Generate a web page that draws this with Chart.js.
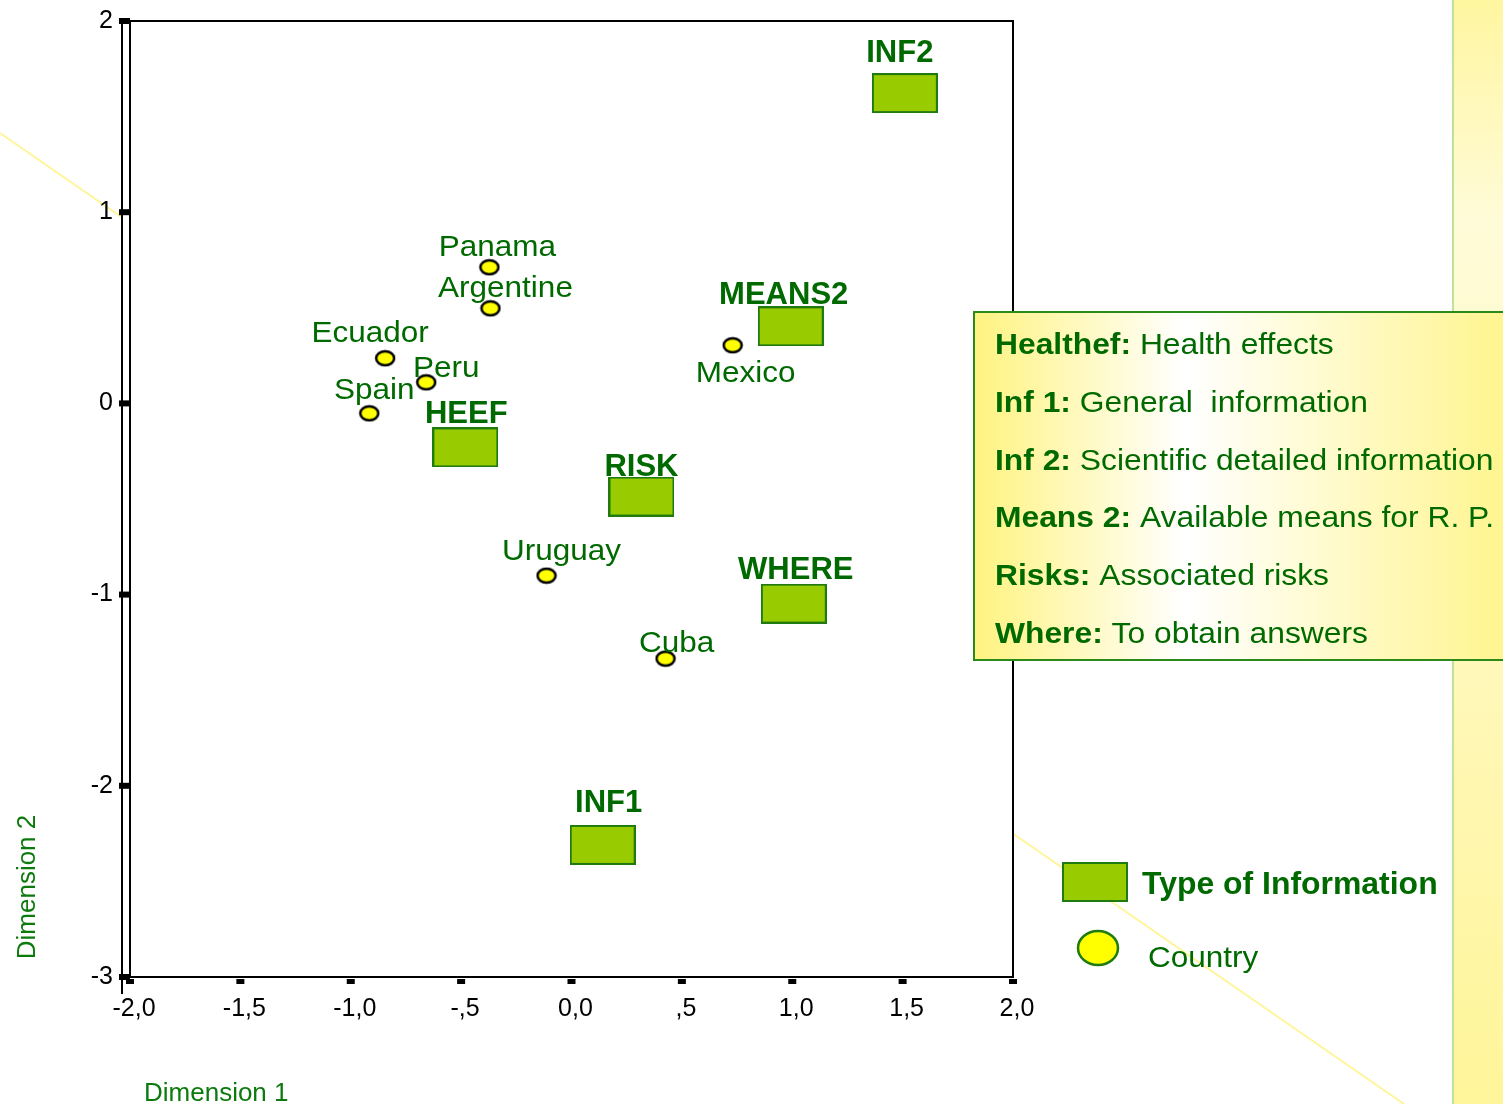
<!DOCTYPE html>
<html lang="en">
<head>
  <meta charset="UTF-8">
  <title>Dimension 1 / Dimension 2</title>
  <script src="https://cdn.jsdelivr.net/npm/chart.js"></script>
  <style>
    body { margin: 0; background: #ffffff; }
    canvas { display: block; }
  </style>
</head>
<body>
  <canvas id="plot" width="1503" height="1104"></canvas>

  <script>
    // countries (yellow ellipses)
    const countryNames = ['Panama', 'Argentine', 'Ecuador', 'Peru', 'Spain', 'Mexico', 'Uruguay', 'Cuba'];
    const countryX = [-0.372, -0.367, -0.844, -0.658, -0.916, 0.730, -0.113, 0.426];
    const countryY = [0.712, 0.497, 0.236, 0.110, -0.052, 0.304, -0.901, -1.335];

    // type of information (green boxes)
    const typeNames = ['INF2', 'MEANS2', 'HEEF', 'RISK', 'WHERE', 'INF1'];
    const typeX = [1.510, 0.993, -0.481, 0.317, 1.007, 0.141];
    const typeY = [1.623, 0.403, -0.230, -0.487, -1.047, -2.309];

    const xTicks = [-2, -1.5, -1, -0.5, 0, 0.5, 1, 1.5, 2];
    const yTicks = [2, 1, 0, -1, -2, -3];

    const legendKeys = ['Healthef:', 'Inf 1:', 'Inf 2:', 'Means 2:', 'Risks:', 'Where:'];
    const legendTexts = ['Health effects', 'General  information', 'Scientific detailed information',
      'Available means for R. P.', 'Associated risks', 'To obtain answers'];

    // where each label sits relative to its marker (pixels)
    const labelShift = {
      Panama: [8, -11], Argentine: [15, -11], Ecuador: [-15, -16], Peru: [20, -5],
      Spain: [5, -14], Mexico: [13, 37], Uruguay: [15, -16], Cuba: [11, -7],
      INF2: [-5, -31], MEANS2: [-7, -22], HEEF: [1, -24], RISK: [0, -21], WHERE: [2, -25], INF1: [6, -33]
    };

    const GREEN = '#006a00';
    const FONT = "'Liberation Sans', Arial, sans-serif";

    function boxImage(w, h) {
      const c = document.createElement('canvas');
      c.width = w + 2; c.height = h + 2;
      const g = c.getContext('2d');
      g.fillStyle = '#99cc00';
      g.fillRect(1, 1, w, h);
      g.strokeStyle = '#1f7a10';
      g.lineWidth = 2;
      g.strokeRect(1, 1, w, h);
      return c;
    }

    function ellipseImage(rx, ry, edge) {
      const c = document.createElement('canvas');
      c.width = rx * 2 + 4; c.height = ry * 2 + 4;
      const g = c.getContext('2d');
      g.beginPath();
      g.ellipse(c.width / 2, c.height / 2, rx, ry, 0, 0, Math.PI * 2);
      g.fillStyle = '#ffff00';
      g.fill();
      g.lineWidth = 2.5;
      g.strokeStyle = edge;
      g.stroke();
      return c;
    }

    function tickText(v) {
      if (v === 0) return '0,0';
      let s = Math.abs(v).toFixed(1).replace('.', ',');
      if (Math.abs(v) < 1) s = s.replace(/^0/, '');
      return (v < 0 ? '-' : '') + s;
    }

    // text with a slight horizontal stretch, like the original
    function stretchText(ctx, txt, x, y, font, sx, align) {
      ctx.save();
      ctx.font = font;
      ctx.textAlign = align || 'center';
      ctx.textBaseline = 'alphabetic';
      ctx.translate(x, y);
      ctx.scale(sx, 1);
      ctx.fillText(txt, 0, 0);
      ctx.restore();
    }

    const decor = {
      id: 'decor',
      beforeDraw(chart) {
        const ctx = chart.ctx;
        const a = chart.chartArea;
        ctx.save();
        ctx.fillStyle = '#ffffff';
        ctx.fillRect(0, 0, chart.width, chart.height);
        // faint diagonal line
        ctx.strokeStyle = '#fff59a';
        ctx.lineWidth = 2;
        ctx.beginPath();
        ctx.moveTo(0, 133);
        ctx.lineTo(1404, 1104);
        ctx.stroke();
        // right hand stripe
        const sg = ctx.createLinearGradient(0, 0, 0, chart.height);
        sg.addColorStop(0, '#fff6a0');
        sg.addColorStop(0.2, '#fffbd8');
        sg.addColorStop(1, '#fff59a');
        ctx.fillStyle = sg;
        ctx.fillRect(1452, 0, chart.width - 1452, chart.height);
        ctx.fillStyle = '#bfe29a';
        ctx.fillRect(1452, 0, 2, chart.height);
        // plot area
        ctx.fillStyle = '#ffffff';
        ctx.fillRect(121, a.top, a.right - 121, a.bottom - a.top);
        ctx.restore();
      },
      beforeDatasetsDraw(chart) {
        const ctx = chart.ctx;
        const a = chart.chartArea;
        const xs = chart.scales.x, ys = chart.scales.y;
        ctx.save();
        ctx.strokeStyle = '#000000';
        ctx.lineWidth = 2;
        ctx.strokeRect(a.left, a.top, a.right - a.left, a.bottom - a.top);
        ctx.beginPath();
        ctx.moveTo(122, a.top);
        ctx.lineTo(122, a.bottom + 17);
        ctx.moveTo(122, a.top);
        ctx.lineTo(a.left, a.top);
        ctx.moveTo(122, a.bottom + 1);
        ctx.lineTo(a.left, a.bottom + 1);
        ctx.stroke();
        ctx.fillStyle = '#000000';
        yTicks.forEach(v => {
          const py = ys.getPixelForValue(v);
          ctx.fillRect(119, py - 3, a.left - 119, 6);
        });
        xTicks.forEach(v => {
          const px = xs.getPixelForValue(v);
          ctx.fillRect(px - 4, a.bottom + 2, 8, 5);
        });
        ctx.restore();
      },
      afterDatasetsDraw(chart) {
        const ctx = chart.ctx;
        ctx.save();
        ctx.fillStyle = GREEN;
        chart.getDatasetMeta(0).data.forEach((pt, i) => {
          const s = labelShift[countryNames[i]];
          stretchText(ctx, countryNames[i], pt.x + s[0], pt.y + s[1], '30px ' + FONT, 1.05);
        });
        chart.getDatasetMeta(1).data.forEach((pt, i) => {
          const s = labelShift[typeNames[i]];
          stretchText(ctx, typeNames[i], pt.x + s[0], pt.y + s[1], 'bold 31px ' + FONT, 1.0);
        });

        // explanation box
        const bx = 974, by = 312, bw = 560, bh = 348;
        const bg = ctx.createLinearGradient(bx, 0, 1503, 0);
        bg.addColorStop(0, '#fff380');
        bg.addColorStop(0.4, '#ffffff');
        bg.addColorStop(1, '#fff590');
        ctx.fillStyle = bg;
        ctx.fillRect(bx, by, bw, bh);
        ctx.strokeStyle = '#2c8a1a';
        ctx.lineWidth = 2;
        ctx.strokeRect(bx, by, bw, bh);
        ctx.fillStyle = GREEN;
        legendKeys.forEach((k, i) => {
          const y = 354 + i * 57.8;
          ctx.font = 'bold 30px ' + FONT;
          const kw = ctx.measureText(k + ' ').width * 1.06;
          stretchText(ctx, k, 995, y, 'bold 30px ' + FONT, 1.06, 'left');
          stretchText(ctx, legendTexts[i], 995 + kw, y, '30px ' + FONT, 1.06, 'left');
        });

        // marker legend
        ctx.drawImage(boxImage(64, 38), 1062, 862);
        stretchText(ctx, 'Type of Information', 1142, 894, 'bold 31px ' + FONT, 1.03, 'left');
        ctx.drawImage(ellipseImage(20, 17, '#1f7a10'), 1076, 929);
        stretchText(ctx, 'Country', 1148, 967, '30px ' + FONT, 1.05, 'left');

        // axis titles
        ctx.fillStyle = '#0c7a0c';
        stretchText(ctx, 'Dimension 1', 144, 1101, '26px ' + FONT, 1.0, 'left');
        ctx.save();
        ctx.translate(35, 887);
        ctx.rotate(-Math.PI / 2);
        stretchText(ctx, 'Dimension 2', 0, 0, '26px ' + FONT, 1.0, 'center');
        ctx.restore();
        ctx.restore();
      }
    };

    const ctx = document.getElementById('plot').getContext('2d');

    new Chart(ctx, {
      type: 'scatter',
      data: {
        datasets: [
          {
            label: 'Country',
            data: countryNames.map((n, i) => ({ x: countryX[i], y: countryY[i] })),
            pointStyle: ellipseImage(9, 7, '#000000'),
            radius: 10
          },
          {
            label: 'Type of Information',
            data: typeNames.map((n, i) => ({ x: typeX[i], y: typeY[i] })),
            pointStyle: boxImage(64, 38),
            radius: 20
          }
        ]
      },
      options: {
        responsive: false,
        animation: false,
        layout: { padding: { top: 21, right: 490, left: 0, bottom: 0 } },
        plugins: {
          legend: { display: false },
          tooltip: { enabled: false }
        },
        scales: {
          x: {
            type: 'linear',
            min: -2,
            max: 2,
            afterFit: s => { s.height = 127; s.paddingLeft = 0; s.paddingRight = 0; },
            afterBuildTicks: s => { s.ticks = xTicks.map(v => ({ value: v })); },
            grid: { display: false, drawTicks: false },
            border: { display: false },
            ticks: {
              callback: v => tickText(v),
              color: '#000000',
              font: { family: FONT, size: 25 },
              padding: 17,
              labelOffset: 4,
              maxRotation: 0,
              autoSkip: false
            }
          },
          y: {
            type: 'linear',
            min: -3,
            max: 2,
            afterFit: s => { s.width = 130; s.paddingTop = 0; s.paddingBottom = 0; },
            afterBuildTicks: s => { s.ticks = yTicks.map(v => ({ value: v })); },
            grid: { display: false, drawTicks: false },
            border: { display: false },
            ticks: {
              callback: v => String(v),
              color: '#000000',
              font: { family: FONT, size: 25 },
              padding: 17,
              autoSkip: false
            }
          }
        }
      },
      plugins: [decor]
    });
  </script>
</body>
</html>
